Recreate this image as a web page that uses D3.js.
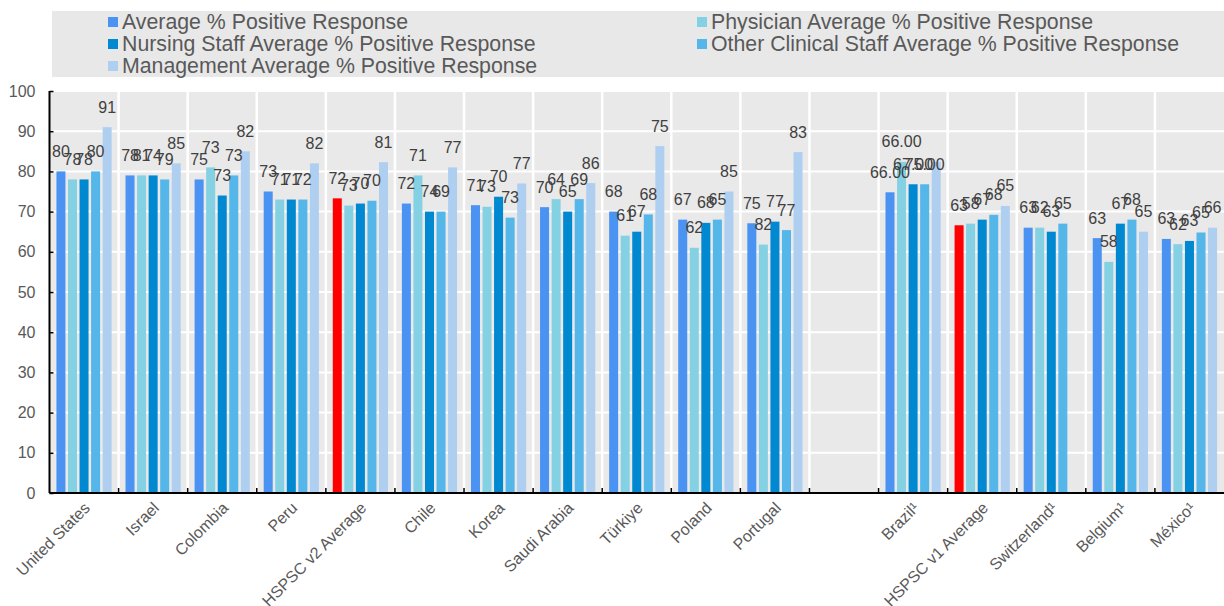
<!DOCTYPE html>
<html><head><meta charset="utf-8">
<script src="https://cdn.jsdelivr.net/npm/d3@7"></script>
<style>body{margin:0;background:#fff;} svg{display:block;font-family:"Liberation Sans",Arial,sans-serif;}</style>
</head><body><svg id="c" width="1224" height="606"></svg>
<script>
const categories = ["United States","Israel","Colombia","Peru","HSPSC v2 Average","Chile","Korea","Saudi Arabia","Türkiye","Poland","Portugal","","Brazil¹","HSPSC v1 Average","Switzerland¹","Belgium¹","México¹"];
const highlightCategories = ["HSPSC v2 Average","HSPSC v1 Average"];
const seriesNames = ["Average % Positive Response","Physician Average % Positive Response","Nursing Staff Average % Positive Response","Other Clinical Staff Average % Positive Response","Management Average % Positive Response"];
const avgValues        = [80,79,78,75,73.3,72,71.6,71.1,70,68,67.1,null,74.8,66.6,66,63.4,63.2];
const physicianValues  = [78,79,81,73,71.5,79,71.2,73.1,64,61,61.8,null,82.4,67,66,57.5,61.9];
const nursingValues    = [78,79,74,73,72,70,73.7,70,65,67.2,67.5,null,76.8,68,65,67,62.7];
const otherValues      = [80,78,79,73,72.7,70,68.5,73.1,69.3,68,65.4,null,76.8,69.2,67,68,64.8];
const managementValues = [91,82,85,82,82.3,81,77,77.1,86.3,75,84.8,null,82.4,71.4,null,65,66];
const avgLabels        = ["80","78","75","73","72","72","71","70","68","67","75","","66.00","63","63","63","63"];
const physicianLabels  = ["78","81","73","71","73","71","73","64","61","62","82","","66.00","58","62","58","62"];
const nursingLabels    = ["78","74","73","71","70","74","70","65","67","68","77","","67.00","67","63","67","63"];
const otherLabels      = ["80","79","73","72","70","69","73","69","68","65","77","","75.00","68","65","68","65"];
const managementLabels = ["91","85","82","82","81","77","77","86","75","85","83","","","65","","65","66"];
const yTicks = [0,10,20,30,40,50,60,70,80,90,100];
const seriesColors = ["#4a93f3","#84d1e3","#0088d1","#55b6e9","#afcff0"];
const highlightColor = "#ff0000";

const seriesValues = [avgValues,physicianValues,nursingValues,otherValues,managementValues];
const seriesLabels = [avgLabels,physicianLabels,nursingLabels,otherLabels,managementLabels];

const svg = d3.select("#c");
const pL = 49.5, pR = 1224, pT = 91, pB = 493;
const x = d3.scaleBand().domain(d3.range(categories.length)).range([pL,pR]).padding(0);
const xs = d3.scaleBand().domain(d3.range(5)).range([0,x.bandwidth()]).paddingInner(0.22).paddingOuter(0.6);
const y = d3.scaleLinear().domain([0,100]).range([pB,pT]);

// legend background
svg.append("rect").attr("x",52).attr("y",11).attr("width",1172).attr("height",66).attr("fill","#e8e8e8");
const legendPos = [[108,22],[697,22],[108,44],[697,44],[108,66]];
seriesNames.forEach((n,k)=>{
  const [lx,ly] = legendPos[k];
  svg.append("rect").attr("x",lx).attr("y",ly-5).attr("width",10).attr("height",10).attr("fill",seriesColors[k]);
  svg.append("text").attr("x",lx+14).attr("y",ly).attr("dy","0.35em").attr("font-size",21.3).attr("fill","#595959").text(n);
});

// plot background
svg.append("rect").attr("x",pL).attr("y",pT).attr("width",pR-pL).attr("height",pB-pT).attr("fill","#e9e9e9");
svg.append("g").selectAll("line").data(yTicks.filter(t=>t>0)).join("line")
  .attr("x1",pL).attr("x2",pR).attr("y1",d=>y(d)).attr("y2",d=>y(d))
  .attr("stroke","#fff").attr("stroke-width",2);
svg.append("g").selectAll("line").data(d3.range(1,categories.length)).join("line")
  .attr("x1",d=>x(d)).attr("x2",d=>x(d)).attr("y1",pT).attr("y2",pB)
  .attr("stroke","#fff").attr("stroke-width",2.5);

// bars
const bars = [];
categories.forEach((c,i)=>{
  seriesValues.forEach((vals,k)=>{
    if (vals[i]==null) return;
    bars.push({i,k,v:vals[i],label:seriesLabels[k][i],
      color:(k===0 && highlightCategories.includes(c))?highlightColor:seriesColors[k]});
  });
});
svg.append("g").selectAll("rect").data(bars).join("rect")
  .attr("x",d=>x(d.i)+xs(d.k)).attr("width",xs.bandwidth())
  .attr("y",d=>y(d.v)).attr("height",d=>y(0)-y(d.v)).attr("fill",d=>d.color);

// data labels
svg.append("g").selectAll("text").data(bars.filter(d=>d.label)).join("text")
  .attr("x",d=>x(d.i)+xs(d.k)+xs.bandwidth()/2).attr("y",d=>y(d.v)-14.5)
  .attr("text-anchor","middle").attr("font-size",16).attr("fill","#404040").text(d=>d.label);

// axes
const yAxis = d3.axisLeft(y).tickValues(yTicks).tickSize(-4).tickPadding(14);
const gy = svg.append("g").attr("transform",`translate(${pL},0)`).call(yAxis);
gy.select(".domain").attr("stroke","#000").attr("stroke-width",2).attr("d",`M0,${pT}V${pB}`);
gy.selectAll(".tick line").attr("stroke","#000").attr("stroke-width",1.5);
gy.selectAll(".tick text").attr("font-size",16).attr("fill","#595959").attr("font-family","Liberation Sans, Arial, sans-serif");

const gx = svg.append("g").attr("transform",`translate(0,${pB})`);
gx.append("line").attr("x1",pL).attr("x2",pR).attr("y1",0).attr("y2",0).attr("stroke","#000").attr("stroke-width",2);
gx.selectAll("line.t").data(d3.range(1,categories.length)).join("line").attr("class","t")
  .attr("x1",d=>x(d)).attr("x2",d=>x(d)).attr("y1",0).attr("y2",-5).attr("stroke","#000").attr("stroke-width",1.5);
gx.selectAll("text").data(categories.map((c,i)=>({c,i})).filter(d=>d.c)).join("text")
  .attr("transform",d=>`translate(${x(d.i)+x.bandwidth()/2+3},${12}) rotate(-45)`)
  .attr("text-anchor","end").attr("dy","0.35em").attr("font-size",16).attr("fill","#595959").text(d=>d.c);
</script></body></html>
